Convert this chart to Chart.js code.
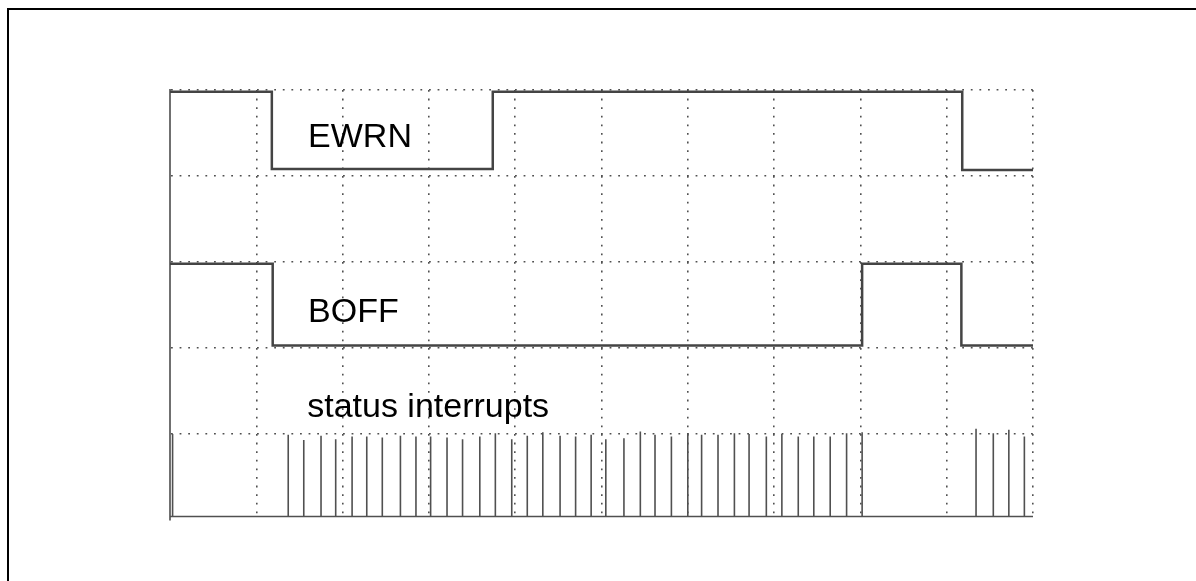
<!DOCTYPE html>
<html>
<head>
<meta charset="utf-8">
<script src="https://cdn.jsdelivr.net/npm/chart.js@4"></script>
<style>
  html, body { margin: 0; padding: 0; background: #fff; }
  #wrap { position: relative; width: 1196px; height: 581px; overflow: hidden; }
  #frame { position: absolute; left: 7px; top: 8px; width: 1400px; height: 800px;
           border-left: 2px solid #000; border-top: 2px solid #000; }
  canvas { position: absolute; left: 0; top: 0; }
</style>
</head>
<body>
<div id="wrap">
  <div id="frame"></div>
  <canvas id="scope" width="1196" height="581"></canvas>
</div>
<script>
// time in divisions (0..10), level in divisions (0..5, bottom = 0)
const ewrnTimes  = [0, 1.18, 3.74, 9.18, 10];
const ewrnLevels = [4.98, 4.08, 4.98, 4.07];

const boffTimes  = [0, 1.19, 8.02, 9.17, 10];
const boffLevels = [2.98, 2.03, 2.98, 2.03];

// status interrupt pulses
const irqBase = 0.04;
const irqTimes = [
  0.03,
  1.37, 1.55, 1.75, 1.92, 2.11, 2.28, 2.46, 2.67, 2.85, 3.02,
  3.21, 3.39, 3.59, 3.77, 3.96, 4.14, 4.32, 4.52, 4.70, 4.88,
  5.05, 5.26, 5.45, 5.62, 5.81, 6.00, 6.16, 6.35, 6.54, 6.71,
  6.91, 7.09, 7.28, 7.46, 7.65, 7.84, 8.02,
  9.34, 9.54, 9.72, 9.90
];
const irqPeaks = [
  1.00,
  0.99, 0.93, 0.98, 0.94, 0.97, 0.97, 0.96, 0.98, 0.97, 0.97,
  0.96, 0.94, 0.97, 1.01, 0.94, 0.98, 1.02, 0.98, 0.97, 0.99,
  0.94, 0.95, 1.03, 0.99, 0.97, 1.01, 0.99, 0.99, 1.01, 1.00,
  0.97, 1.00, 0.97, 0.97, 0.97, 1.01, 1.02,
  1.06, 1.01, 1.05, 0.97
];

// labels drawn on the screen (x, baseline y in divisions)
const labelTexts = ["EWRN", "BOFF", "status interrupts"];
const labelX = [1.6, 1.6, 1.59];
const labelY = [4.34, 2.30, 1.20];

function stepPoints(times, levels) {
    const pts = [];
    for (let i = 0; i < levels.length; i++) {
        pts.push({ x: times[i], y: levels[i] });
        pts.push({ x: times[i + 1], y: levels[i] });
    }
    return pts;
}

function pulsePoints(times, peaks, base) {
    const pts = [{ x: 0, y: base }];
    for (let i = 0; i < times.length; i++) {
        pts.push({ x: times[i], y: base });
        pts.push({ x: times[i], y: peaks[i] });
        pts.push({ x: times[i], y: base });
    }
    pts.push({ x: 10, y: base });
    return pts;
}

const labelPlugin = {
    id: "screenLabels",
    afterDatasetsDraw(chart) {
        const ctx = chart.ctx;
        const xs = chart.scales.x;
        const ys = chart.scales.y;
        ctx.save();
        ctx.fillStyle = "#000";
        ctx.font = "34px 'Liberation Sans', Arial, sans-serif";
        ctx.textBaseline = "alphabetic";
        ctx.textAlign = "left";
        labelTexts.forEach((t, i) => {
            ctx.fillText(t, xs.getPixelForValue(labelX[i]), ys.getPixelForValue(labelY[i]));
        });
        ctx.restore();
    }
};

const traceStyle = {
    borderColor: "#444",
    borderWidth: 2.5,
    pointRadius: 0,
    fill: false,
    tension: 0
};

new Chart(document.getElementById("scope").getContext("2d"), {
    type: "line",
    data: {
        datasets: [
            Object.assign({ label: "EWRN", data: stepPoints(ewrnTimes, ewrnLevels) }, traceStyle),
            Object.assign({ label: "BOFF", data: stepPoints(boffTimes, boffLevels) }, traceStyle),
            Object.assign({ label: "status interrupts", data: pulsePoints(irqTimes, irqPeaks, irqBase) },
                traceStyle, { borderColor: "#505050", borderWidth: 1.6 })
        ]
    },
    options: {
        responsive: false,
        animation: false,
        events: [],
        layout: { padding: { left: 170, top: 90, right: 163, bottom: 61 } },
        plugins: {
            legend: { display: false },
            tooltip: { enabled: false }
        },
        scales: {
            x: {
                type: "linear",
                min: 0,
                max: 10,
                ticks: { display: false, stepSize: 1 },
                grid: { color: "#505050", lineWidth: 1.6, drawTicks: false },
                border: { display: false, dash: [1.8, 6.8] }
            },
            y: {
                type: "linear",
                min: 0,
                max: 5,
                ticks: { display: false, stepSize: 1 },
                grid: {
                    color: (c) => (c.tick && c.tick.value === 0 ? "rgba(0,0,0,0)" : "#505050"),
                    lineWidth: 1.6,
                    drawTicks: false
                },
                border: { display: true, color: "#707070", width: 2, dash: [1.8, 6.8] }
            }
        }
    },
    plugins: [labelPlugin]
});
</script>
</body>
</html>
